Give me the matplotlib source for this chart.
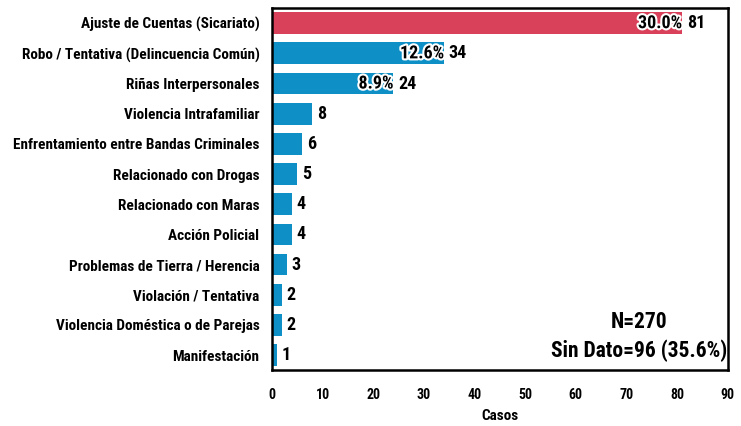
import matplotlib.pyplot as plt
import matplotlib.patheffects as pe
from matplotlib import font_manager

# the chart uses an Arial-Narrow-like bold face; pick the closest one installed
CANDIDATES = ["Liberation Sans Narrow", "Arial Narrow", "Roboto Condensed",
              "PT Sans Narrow", "Archivo Narrow", "Nimbus Sans Narrow",
              "Open Sans Condensed", "Barlow Semi Condensed", "Liberation Sans"]
bold_faces = {f.name for f in font_manager.fontManager.ttflist
              if isinstance(f.weight, int) and f.weight >= 600 or f.weight == "bold"}
FAM = next((c for c in CANDIDATES if c in bold_faces), "DejaVu Sans")
plt.rcParams["font.family"] = [FAM, "DejaVu Sans"]
plt.rcParams["font.weight"] = "bold"

categories = [
    "Ajuste de Cuentas (Sicariato)",
    "Robo / Tentativa (Delincuencia Común)",
    "Riñas Interpersonales",
    "Violencia Intrafamiliar",
    "Enfrentamiento entre Bandas Criminales",
    "Relacionado con Drogas",
    "Relacionado con Maras",
    "Acción Policial",
    "Problemas de Tierra / Herencia",
    "Violación / Tentativa",
    "Violencia Doméstica o de Parejas",
    "Manifestación",
]
casos = [81, 34, 24, 8, 6, 5, 4, 4, 3, 2, 2, 1]
pct_labels = ["30.0%", "12.6%", "8.9%"]
n_total = 270
sin_dato = 96
sin_dato_pct = "35.6%"

RED = "#d9405a"
BLUE = "#0e90c6"

fig = plt.figure(figsize=(7.41, 4.26), dpi=100)
ax = fig.add_axes([0.367, 0.131, 0.615, 0.850])

ypos = list(range(len(categories)))
colors = [RED] + [BLUE] * (len(categories) - 1)
ax.barh(ypos, casos, height=0.72, color=colors, edgecolor="none")

ax.set_xlim(0, 90)
ax.set_ylim(len(categories) - 0.5, -0.5)
ax.set_yticks(ypos)
ax.set_yticklabels(categories)
ax.set_xticks(range(0, 91, 10))
ax.tick_params(axis="both", length=0)
ax.tick_params(axis="y", pad=9, labelsize=11)
ax.tick_params(axis="x", pad=13, labelsize=10)
for lab in ax.get_xticklabels() + ax.get_yticklabels():
    lab.set_fontweight("bold")
ax.set_xlabel("Casos", fontsize=11, fontweight="bold", labelpad=5)

for sp in ax.spines.values():
    sp.set_linewidth(1.8)
    sp.set_color("black")

stroke = [pe.withStroke(linewidth=3, foreground="white")]
for i, v in enumerate(casos):
    ax.text(v + 0.9, i, str(v), va="center", ha="left",
            fontsize=13, fontweight="bold")
    if i < len(pct_labels):
        ax.text(v, i, pct_labels[i], va="center", ha="right",
                fontsize=13, fontweight="bold", path_effects=stroke)

ax.text(72.5, 9.9, f"N={n_total}", ha="center", va="center",
        fontsize=15.5, fontweight="bold")
ax.text(72.5, 10.87, f"Sin Dato={sin_dato} ({sin_dato_pct})", ha="center",
        va="center", fontsize=15.5, fontweight="bold")

fig.savefig("out.png", dpi=100, facecolor="white")
